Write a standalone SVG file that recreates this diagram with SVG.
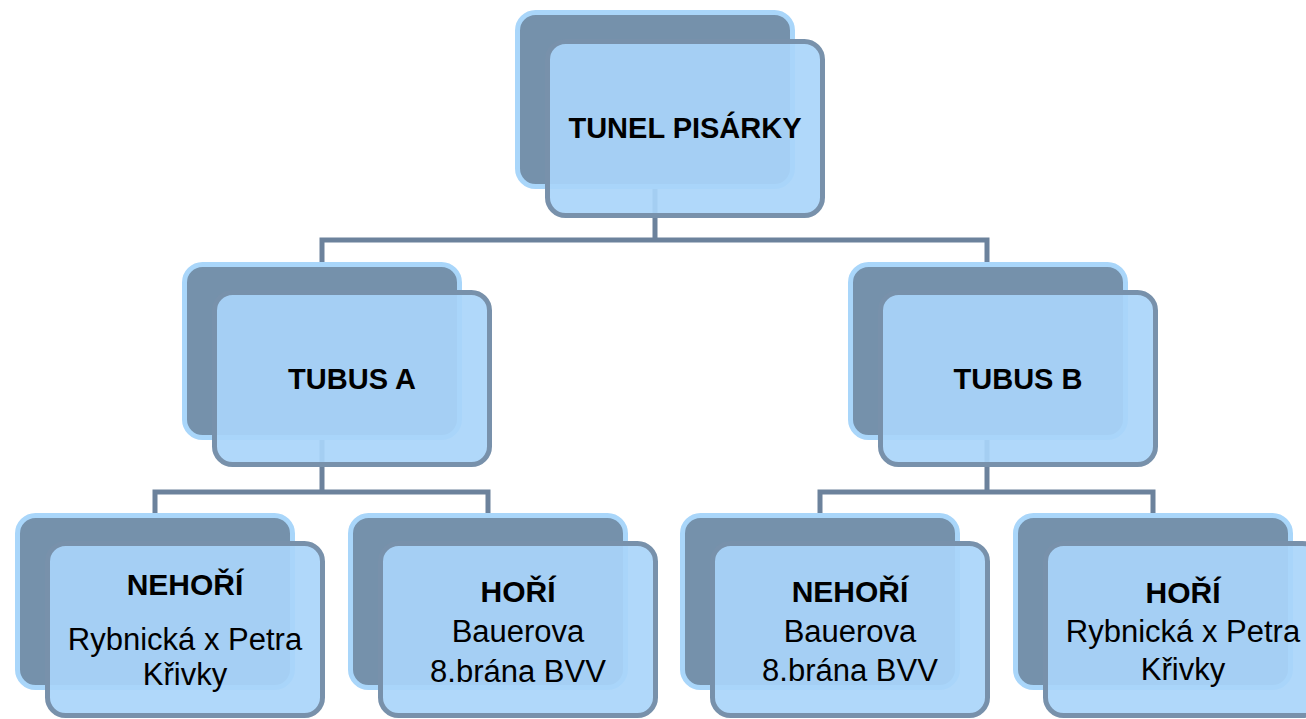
<svg xmlns="http://www.w3.org/2000/svg" width="1306" height="719" viewBox="0 0 1306 719">
<style>
.bk{fill:#7591AB;stroke:#A9D6FA;stroke-width:5}
.fr{fill:#A9D5FA;fill-opacity:0.92;stroke:#7891AB;stroke-width:5}
.cn{fill:none;stroke:#6C829C;stroke-width:5;stroke-linejoin:miter}
.t{font-family:"Liberation Sans",Arial,sans-serif;fill:#000;text-anchor:middle}
.b{font-weight:bold}
</style>
<rect width="1306" height="719" fill="#fff"/>
<g id="connectors">
<path class="cn" d="M655,188 V240 M322,264 V240 H987 V264"/>
<path class="cn" d="M322,440 V492 M155,515 V492 H488 V515"/>
<path class="cn" d="M987,440 V492 M820,515 V492 H1153 V515"/>
</g>
<g id="n-tunel">
<rect class="bk" x="517.5" y="12.5" width="275" height="174" rx="18"/>
<rect class="fr" x="547.5" y="41.5" width="275" height="174" rx="18"/>
<text class="t b" x="685" y="138" font-size="29">TUNEL PISÁRKY</text>
</g>
<g id="n-tubusA">
<rect class="bk" x="184.5" y="264.5" width="275" height="173" rx="18"/>
<rect class="fr" x="214.5" y="292.5" width="275" height="172" rx="18"/>
<text class="t b" x="352" y="389" font-size="29">TUBUS A</text>
</g>
<g id="n-tubusB">
<rect class="bk" x="850.5" y="264.5" width="275" height="173" rx="18"/>
<rect class="fr" x="880.5" y="292.5" width="275" height="172" rx="18"/>
<text class="t b" x="1018" y="389" font-size="29">TUBUS B</text>
</g>
<g id="n-a-nehori">
<rect class="bk" x="17.5" y="515.5" width="275" height="172" rx="18"/>
<rect class="fr" x="47.5" y="543.5" width="275" height="172" rx="18"/>
<text class="t b" x="185" y="595" font-size="30">NEHOŘÍ</text>
<text class="t" x="185" y="650" font-size="31">Rybnická x Petra</text>
<text class="t" x="185" y="685" font-size="31">Křivky</text>
</g>
<g id="n-a-hori">
<rect class="bk" x="350.5" y="515.5" width="275" height="172" rx="18"/>
<rect class="fr" x="380.5" y="543.5" width="275" height="172" rx="18"/>
<text class="t b" x="518" y="602" font-size="30">HOŘÍ</text>
<text class="t" x="518" y="642" font-size="31">Bauerova</text>
<text class="t" x="518" y="682" font-size="31">8.brána BVV</text>
</g>
<g id="n-b-nehori">
<rect class="bk" x="682.5" y="515.5" width="275" height="172" rx="18"/>
<rect class="fr" x="712.5" y="543.5" width="275" height="172" rx="18"/>
<text class="t b" x="850" y="602" font-size="30">NEHOŘÍ</text>
<text class="t" x="850" y="642" font-size="31">Bauerova</text>
<text class="t" x="850" y="681" font-size="31">8.brána BVV</text>
</g>
<g id="n-b-hori">
<rect class="bk" x="1015.5" y="515.5" width="275" height="172" rx="18"/>
<rect class="fr" x="1045.5" y="543.5" width="275" height="172" rx="18"/>
<text class="t b" x="1183" y="603" font-size="30">HOŘÍ</text>
<text class="t" x="1183" y="642" font-size="31">Rybnická x Petra</text>
<text class="t" x="1183" y="680" font-size="31">Křivky</text>
</g>
</svg>
